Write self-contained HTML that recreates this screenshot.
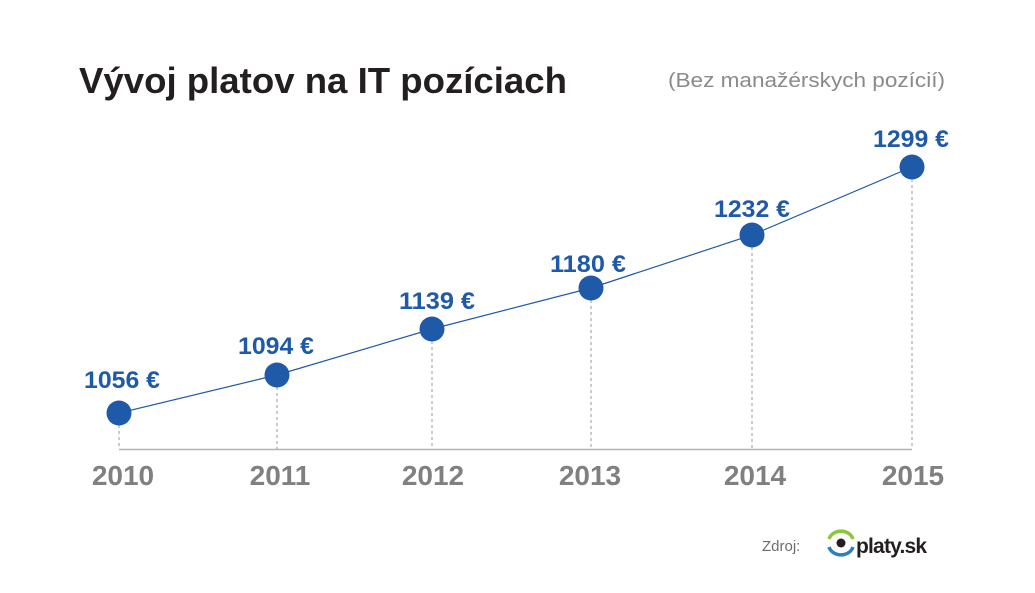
<!DOCTYPE html>
<html><head><meta charset="utf-8"><style>
html,body{margin:0;padding:0;background:#fff;}
svg{display:block;font-family:"Liberation Sans",sans-serif;}
</style></head><body>
<svg width="1035" height="593" viewBox="0 0 1035 593">
<text x="79" y="93" font-size="36" font-weight="bold" fill="#231f20" textLength="488" lengthAdjust="spacingAndGlyphs">Vývoj platov na IT pozíciach</text>
<text x="945" y="87" font-size="20" fill="#8a8a8a" text-anchor="end" textLength="277" lengthAdjust="spacingAndGlyphs">(Bez manažérskych pozícií)</text>
<line x1="119" y1="449.5" x2="912" y2="449.5" stroke="#b3b3b3" stroke-width="1.5"/>
<g stroke="#9a9a9a" stroke-width="1" stroke-dasharray="3,3">
<line x1="119" y1="413" x2="119" y2="449"/>
<line x1="277" y1="375" x2="277" y2="449"/>
<line x1="432" y1="329" x2="432" y2="449"/>
<line x1="591" y1="288" x2="591" y2="449"/>
<line x1="752" y1="235" x2="752" y2="449"/>
<line x1="912" y1="167" x2="912" y2="449"/>
</g>
<polyline points="119,413 277,375 432,329 591,288 752,235 912,167" fill="none" stroke="#1f5aa8" stroke-width="1.2"/>
<g fill="#1f5aa8">
<circle cx="119" cy="413" r="12.5"/><circle cx="277" cy="375" r="12.5"/><circle cx="432" cy="329" r="12.5"/>
<circle cx="591" cy="288" r="12.5"/><circle cx="752" cy="235" r="12.5"/><circle cx="912" cy="167" r="12.5"/>
</g>
<g fill="#1f5aa8" font-size="24" font-weight="bold" text-anchor="middle">
<text x="122" y="388" textLength="76" lengthAdjust="spacingAndGlyphs">1056 €</text>
<text x="276" y="354" textLength="76" lengthAdjust="spacingAndGlyphs">1094 €</text>
<text x="437" y="309" textLength="76" lengthAdjust="spacingAndGlyphs">1139 €</text>
<text x="588" y="272" textLength="76" lengthAdjust="spacingAndGlyphs">1180 €</text>
<text x="752" y="217" textLength="76" lengthAdjust="spacingAndGlyphs">1232 €</text>
<text x="911" y="147" textLength="76" lengthAdjust="spacingAndGlyphs">1299 €</text>
</g>
<g fill="#808080" font-size="28" font-weight="bold" text-anchor="middle">
<text x="123" y="485">2010</text>
<text x="280" y="485">2011</text>
<text x="433" y="485">2012</text>
<text x="590" y="485">2013</text>
<text x="755" y="485">2014</text>
<text x="913" y="485">2015</text>
</g>
<text x="762" y="551" font-size="15" fill="#6d6d6d">Zdroj:</text>
<path d="M829,539 A12.5,11 0 0 1 853,539" fill="none" stroke="#8cc63f" stroke-width="3.5"/>
<path d="M829,547 A12.5,11 0 0 0 853,547" fill="none" stroke="#2a7fc1" stroke-width="3.5"/>
<circle cx="841" cy="543" r="4.5" fill="#231f20"/>
<text x="856" y="553" font-size="21" font-weight="bold" fill="#231f20" letter-spacing="-0.8">platy.sk</text>
</svg>
</body></html>
